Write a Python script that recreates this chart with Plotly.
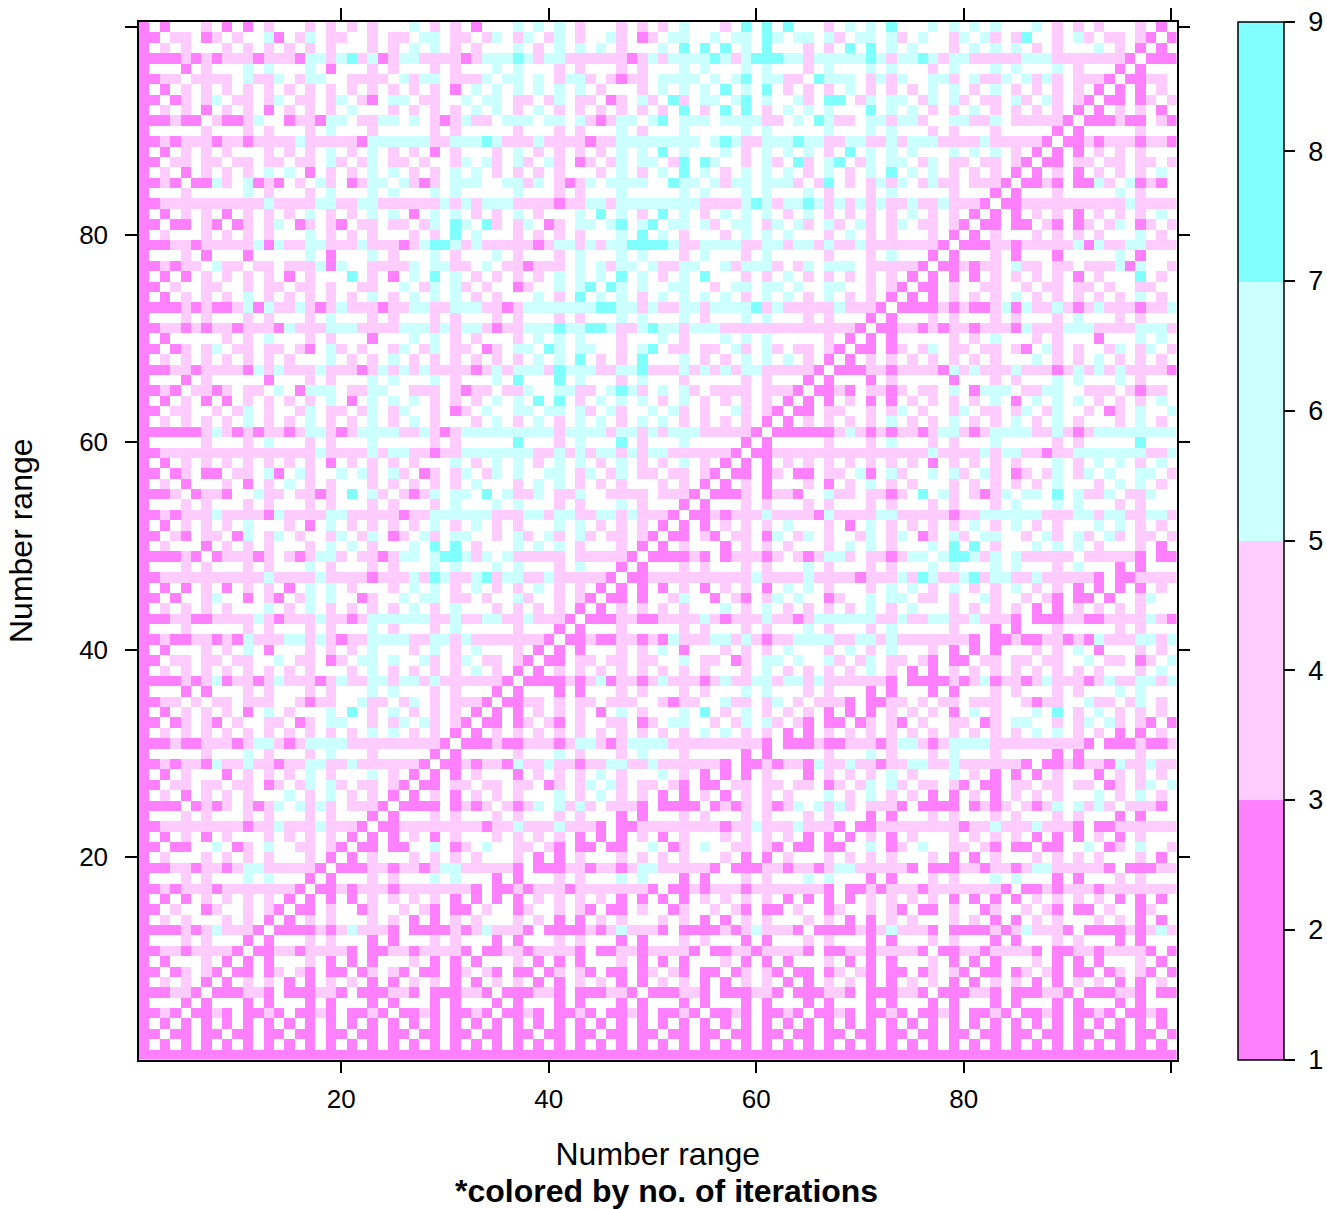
import plotly.graph_objects as go

# Iteration counts read cell by cell, bottom row (y=1) first; "." marks an uncoloured (white) cell.
iterations_by_row = [
"1111111111111111111111111111111111111111111111111111111111111111111111111111111111111111111111111111",
"2.2.2.2.2.2.2.2.2.2.2.2.2.2.2.2.2.2.2.2.2.2.2.2.2.2.2.2.2.2.2.2.2.2.2.2.2.2.2.2.2.2.2.2.2.2.2.2.2.2.",
"23.23.23.23.23.23.23.23.23.23.23.23.23.23.23.23.23.23.23.23.23.23.23.23.23.23.23.23.23.23.23.23.23.2",
"2.3.2.3.2.3.2.3.2.3.2.3.2.3.2.3.2.3.2.3.2.3.2.3.2.3.2.3.2.3.2.3.2.3.2.3.2.3.2.3.2.3.2.3.2.3.2.3.2.3.",
"2343.2343.2343.2343.2343.2343.2343.2343.2343.2343.2343.2343.2343.2343.2343.2343.2343.2343.2343.2343.",
"2...3.2...3.2...3.2...3.2...3.2...3.2...3.2...3.2...3.2...3.2...3.2...3.2...3.2...3.2...3.2...3.2...",
"233443.233443.233443.233443.233443.233443.233443.233443.233443.233443.233443.233443.233443.233443.23",
"2.4.5.3.2.4.5.3.2.4.5.3.2.4.5.3.2.4.5.3.2.4.5.3.2.4.5.3.2.4.5.3.2.4.5.3.2.4.5.3.2.4.5.3.2.4.5.3.2.4.",
"23.34.43.23.34.43.23.34.43.23.34.43.23.34.43.23.34.43.23.34.43.23.34.43.23.34.43.23.34.43.23.34.43.2",
"2.3...4.3.2.3...4.3.2.3...4.3.2.3...4.3.2.3...4.3.2.3...4.3.2.3...4.3.2.3...4.3.2.3...4.3.2.3...4.3.",
"2344345543.2344345543.2344345543.2344345543.2344345543.2344345543.2344345543.2344345543.2344345543.2",
"2...4.5...3.2...4.5...3.2...4.5...3.2...4.5...3.2...4.5...3.2...4.5...3.2...4.5...3.2...4.5...3.2...",
"233353464443.233353464443.233353464443.233353464443.233353464443.233353464443.233353464443.233353464",
"2.4.4...5.5.3.2.4.4...5.5.3.2.4.4...5.5.3.2.4.4...5.5.3.2.4.4...5.5.3.2.4.4...5.5.3.2.4.4...5.5.3.2.",
"23.4..34..5.43.23.4..34..5.43.23.4..34..5.43.23.4..34..5.43.23.4..34..5.43.23.4..34..5.43.23.4..34..",
"2.3.3.4.5.4.4.3.2.3.3.4.5.4.4.3.2.3.3.4.5.4.4.3.2.3.3.4.5.4.4.3.2.3.3.4.5.4.4.3.2.3.3.4.5.4.4.3.2.3.",
"2343444345554543.2343444345554543.2343444345554543.2343444345554543.2343444345554543.234344434555454",
"2...5.5...6.6...3.2...5.5...6.6...3.2...5.5...6.6...3.2...5.5...6.6...3.2...5.5...6.6...3.2...5.5...",
"233443553466455443.233443553466455443.233443553466455443.233443553466455443.233443553466455443.23344",
"2.4...4.4.5.5...5.3.2.4...4.4.5.5...5.3.2.4...4.4.5.5...5.3.2.4...4.4.5.5...5.3.2.4...4.4.5.5...5.3.",
"23.33..6.34.7..44.43.23.33..6.34.7..44.43.23.33..6.34.7..44.43.23.33..6.34.7..44.43.23.33..6.34.7..4",
"2.3.4.3.4...5.4.5.4.3.2.3.4.3.4...5.4.5.4.3.2.3.4.3.4...5.4.5.4.3.2.3.4.3.4...5.4.5.4.3.2.3.4.3.4...",
"2344544454345655565543.2344544454345655565543.2344544454345655565543.2344544454345655565543.23445444",
"2...4.4...4.5...5.5...3.2...4.4...4.5...5.5...3.2...4.4...4.5...5.5...3.2...4.4...4.5...5.5...3.2...",
"2333.3535.5346.6464.4443.2333.3535.5346.6464.4443.2333.3535.5346.6464.4443.2333.3535.5346.6464.4443.",
"2.4.3.5.4.5...6.5.6.4.5.3.2.4.3.5.4.5...6.5.6.4.5.3.2.4.3.5.4.5...6.5.6.4.5.3.2.4.3.5.4.5...6.5.6.4.",
"23.44.45.54.34.56.65.55.43.23.44.45.54.34.56.65.55.43.23.44.45.54.34.56.65.55.43.23.44.45.54.34.56.6",
"2.3.5...3.5.4.5.6.4...6.4.3.2.3.5...3.5.4.5.6.4...6.4.3.2.3.5...3.5.4.5.6.4...6.4.3.2.3.5...3.5.4.5.",
"2343443644654345675574554543.2343443644654345675574554543.2343443644654345675574554543.2343443644654",
"2.....4...6.4...5.7...5.....3.2.....4...6.4...5.7...5.....3.2.....4...6.4...5.7...5.....3.2.....4...",
"233433444356653467764555445443.233433444356653467764555445443.233433444356653467764555445443.2334334",
"2.4.4.5.5.4.4.4.5.5.5.6.6.5.5.3.2.4.4.5.5.4.4.4.5.5.5.6.6.5.5.3.2.4.4.5.5.4.4.4.5.5.5.6.6.5.5.3.2.4.",
"23.35.53.4..55.34.66..5.46.64.43.23.35.53.4..55.34.66..5.46.64.43.23.35.53.4..55.34.66..5.46.64.43.2",
"2.3.4.4.5.3.7.5...6.8.4.6.5.5.4.3.2.3.4.4.5.3.7.5...6.8.4.6.5.5.4.3.2.3.4.4.5.3.7.5...6.8.4.6.5.5.4.",
"2344.4.54.445..4345..655.56.5.5543.2344.4.54.445..4345..655.56.5.5543.2344.4.54.445..4345..655.56.5.",
"2...3.3...5.5...4.5...6.6...4.4...3.2...3.3...5.5...4.5...6.6...4.4...3.2...3.3...5.5...4.5...6.6...",
"233343463553564453465576466475454443.233343463553564453465576466475454443.23334346355356445346557646",
"2.4.5.4.4.4.4.5.4...5.6.5.5.5.5.6.5.3.2.4.5.4.4.4.4.5.4...5.6.5.5.5.5.6.5.3.2.4.5.4.4.4.4.5.4...5.6.",
"23.44.54.45..6.55.34.66.7..65.56.55.43.23.44.54.45..6.55.34.66.7..65.56.55.43.23.44.54.45..6.55.34.6",
"2.3...5.4.6.3...5.4.5.6...4.7.5.6...4.3.2.3...5.4.6.3...5.4.5.6...4.7.5.6...4.3.2.3...5.4.6.3...5.4.",
"2343344353654466564345767755674645544543.2343344353654466564345767755674645544543.234334435365446656",
"2...4.....5.4...4.5...6.5...5.6.....5...3.2...4.....5.4...4.5...6.5...5.6.....5...3.2...4.....5.4...",
"233453355446435556553466766645755664465443.233453355446435556553466766645755664465443.23345335544643",
"2.4.4.4.4...6.4.6.4.4.5.5.7.5.7...5.5.5.5.3.2.4.4.4.4...6.4.6.4.4.5.5.7.5.7...5.5.5.5.3.2.4.4.4.4...",
"23.3..46..3.43.56.6..34..7.76.45.4..75..4.43.23.3..46..3.43.56.6..34..7.76.45.4..75..4.43.23.3..46..",
"2.3.3.5.3.4.5.3.6.6.4...5.7.7.4.6.5.4.6.4.4.3.2.3.3.5.3.4.5.3.6.6.4...5.7.7.4.6.5.4.6.4.4.3.2.3.3.5.",
"2344445445547544574544345565865568566556555543.2344445445547544574544345565865568566556555543.234444",
"2...5.4...5.5...6.5...4.5...6.7...6.6...5.6...3.2...5.4...5.5...6.5...4.5...6.7...6.6...5.6...3.2...",
"233343.344435.535775.553466.688646.645554.454443.233343.344435.535775.553466.688646.645554.454443.23",
"2.4...3.5.5.5...4.7.7.5...6.8.8.5...6.6.6.4...5.3.2.4...3.5.5.5...4.7.7.5...6.8.8.5...6.6.6.4...5.3.",
"23.43.45.36.46.4..56.46.34.75.76..5.75.74.65.45.43.23.43.45.36.46.4..56.46.34.75.76..5.75.74.65.45.4",
"2.3.4.4.5.6...4.3.6.4.5.4.5.6.5.7.4.5...7.6.5.5.4.3.2.3.4.4.5.6...4.3.6.4.5.4.5.6.5.7.4.5...7.6.5.5.",
"23435456445536544466555543" "45666677555674665576564543" "." "23435456445536544466555543" "456666775556746655765",
"2...4.5...4.4...5.5...5.4...5.6...6.6...5.5...6.5...3.2...4.5...4.4...5.5...5.4...5.6...6.6...5.5...",
"2334.3443..644.5435.8.65.5346.67.9.6456.557..4554.5443.2334.3443..644.5435.8.65.5346.67.9.6456.557..",
"2.4.3...4.3.4.6.5.4...5.4.4.5.5.6...5.6.7.5.4.5...4.5.3.2.4.3...4.3.4.6.5.4...5.4.4.5.5.6...5.6.7.5.",
"23.34.33.54.63.65..6.64.64.34.57.57.7..67.47.56.44.54.43.23.34.33.54.63.65..6.64.64.34.57.57.7..67.4",
"2.3.5.4.4.5.4.5.5.3.5.5.4.5...6.5.6.6.4.6.6.5.6.5.5.6.4.3.2.3.5.4.4.5.4.5.5.3.5.5.4.5...6.5.6.6.4.6.",
"23444445545455454644556566543" "45677676655756566565665555543" "." "23444445545455454644556566543" "456776766557",
"2.....5...4.7...5.4...7.....4.5.....8...5.6...8.5...6.....3.2.....5...4.7...5.4...7.....4.5.....8...",
"233333565353553566535666655653467667777646776466464676444443.233333565353553566535666655653467667777",
"2.4.4.4.4.6.5.4.6.5.4.6.4.6.4...5.7.5.7.5.6.7.5.6.7.5.5.5.5.3.2.4.4.4.4.6.5.4.6.5.4.6.4.6.4...5.7.5.",
"23.45..4.46.5..46.45.56.56..5.34.6..76.76.65.75..6.75.5..65.43.23.45..4.46.5..46.45.56.56..5.34.6..7",
"2.3.4.3.3.5.4.5.5.6.3.7.7.6.5.4.5.6.7.8.8.4.7.6.6.5.6.4.4.5.4.3.2.3.4.3.3.5.4.5.5.6.3.7.7.6.5.4.5.6.",
"2343.4434.45.6.3676.4466..544.4345.556..7755.7874.7.65.5455.4543.2343.4434.45.6.3676.4466..544.4345.",
"2...3.4.....3...5.4...6.7...7.5...6.8...8.7...5.6...4.....5.4...3.2...3.4.....3...5.4...6.7...7.5...",
"233443554536464447554356574655453465667586764566855575746566455443.233443554536464447554356574655453",
"2.4.5.5.5.4.4.5...7.4.4.7.5.5.4.4.5.5.6.6.8.5.5.8...6.5.5.6.6.6.5.3.2.4.5.5.5.4.4.5...7.4.4.7.5.5.4.",
"23.34.46.45.44.43.75.4..56.57.55.34.66.86.76..5.68.45.55.65.75.54.43.23.34.46.45.44.43.75.4..56.57.5",
"2.3.....5.5.6...4.5...3...6.6.5.4...5.6.7.7...4...6.5...7.6.6.....4.3.2.3.....5.5.6...4.5...3...6.6.",
"23443434434443655466754457765756643" "45776867886556877566745554554545543" "." "23443434434443655466754457765",
"2...4.4...5.5...4.6...5.5...4.4...4.5...5.5...6.6...7.5...6.6...5.5...3.2...4.4...5.5...4.6...5.5...",
"233353433463755653564453557755666553466777668866465576467668475445464443.233353433463755653564453557",
"2.3.4.5.4.6.5.4.5.5.5.6.4.6.6.7.4.5...6.5.8.7.7.5.7.6.6.6.5.6.7.5.6.5.4.3.2.3.4.5.4.6.5.4.5.5.5.6.4.",
"23.4..55..5.55.55.4..55..6.57.75.5..34..6.68.86.7..66..5.66.66.6..66..5.43.23.4..55..5.55.55.4..55..",
"2.3.3.4.4.4.5.3.4...8.5.3.6.8.6.5.5.4.5.6.6.7.9.7.4.6.9...5.4.6.5.5.5.4.4.3.2.3.3.4.4.4.5.3.4...8.5.",
"234344.655.54.455636..55446.6645.6.443455.7.6577.75566..747665.56.667.554543.234344.655.54.455636..5",
"2...5.3...3.....6.3...6.4...6.5...6.4...5.7...6.7...5.7...4.7.....4...4.6...3.2...5.3...3.....6.3...",
"233443445446365466445655435788756454553466565768998645667655775674755655455443.233443445446365466445",
"2.4...4.4.5.4...6.5.5.4...4.5.8.6...4.4.5.5...7.9.6.5...5.6.6.7...5.6.5.5...5.3.2.4...4.4.5.4...6.5.",
"23.33.53.35.46.35.53.55.45.56.86.85.56.34.76.69.79.76.65.66.46.64.75.64.46.44.43.23.33.53.35.46.35.5",
"2.3.4.5.3.4.4.4.6.4.5.6.6.3.6.7.4.5.7.5...6.8.6.5.8.7.4.7.7.6.5.7.5.5.5.4.6.5.4.3.2.3.4.5.3.4.4.4.6.",
"23445445445464545765467544445656566645543" "45665777676765555687567865657565565565543" "." "23445445445464545",
"2...4.....6.4...4.6...6.6...6.6.....6...4.5...7.....7.7...7.7...7.5...5.7.....5...3.2...4.....6.4...",
"2343.3364.6353.4.74.3566.6535.667..6656.5346.7677..877.6467.7764.58.5.4647.5744.4543.2343.3364.6353.",
"2.4.3.4.5.5.7.6.3.5.4.6.6.5.4.6.7.5.4.5.4...5.6.5.6.8.7.5.6.7.7.5.6.4.7.8.6.6.5.4.5.3.2.4.3.4.5.5.7.",
"23.44.44.54.55.54.75.47.45.4..57.74.65.64.34.57.67.58.86..5.65.85.68.56.66.56.55.55.43.23.44.44.54.5",
"2.3.5.5.5...5.5.5.7.4.6.5.5.3.5...5.7.5.5.4.5.6.6.8.6...6.4.6.6.7.5.8.6.6.6...6.6.6.4.3.2.3.5.5.5...",
"23434453443555464455436676664467696555655543" "4566676667.787557778774566557566645546554543" "." "23434453443",
"2.....4...4.4...5.6...5.....5.5.....5...4.5...6.5...6.....6.6.....6...7.6...5.5...5.....3.2.....4...",
"233433.53356..355366.4467.6.435655.666.76.653467.78.777.667645.7.8755.774664..76446.445443.233433.53",
"2.4.4.3.4.5.3.4.5.5.7...5.5.5.4.7.7.4.7.4.4.4.5.5.5.8.5.8.8.5.6.6.6...8.6.6.5.4.6.5.4.5.5.3.2.4.4.3.",
"23.35.46.44.46.54.56.53.77.45..6.76.55.47.45.34.65.85.66.78.7..65.88.46.76.56.75.55.75.64.43.23.35.4",
"2.3.4.4.4.5.4.5.5.4.4.4.5.4.4.3.7.6.7.6.6.6.4...5.7.7.7.8.7.8.4.5.5.6.5.5.5.6.6.5.6.5.5.5.4.3.2.3.4.",
"2344.4545.6446.466..5454.6567.4456.76.6.5665.4345.6776.7.78.7655.8767.5656..775.7557.6565.5543.2344.",
"2...3.5...6.6...6.3...5.5...5.4...6.6...5.5...4.5...6.6...7.7...5.6...6.6...4.7...7.7...6.4...3.2...",
"233343435553444366468563576555535677864675555453465666687579887646666786476975774555466645454443.233",
"2.4.5...4.4.5.5.5.4...5.5.7.7.4.4...7.5.7.7.7.5...6.8.8.8.6.8...5.5.8.8.6.6...5.6.6.6.5.5...6.5.3.2.",
"23.44.35.4..73.46.54..5.45.66.45.56.57.56.5..65.34.67..6.76.86.76.65.77.65.6..56.75.48..5.64.55.43.2",
"2.3...4.3.3.5...5.5.5.5...7.5.5.3...7.7.7.4...5.4.5.6...5.8.8.8...4.6.6.8...6.6.6.6...6.4.4.5...4.3.",
]

x_numbers = list(range(1, 101))
y_numbers = list(range(1, 101))
axis_ticks = [20, 40, 60, 80, 100]
axis_tick_labels = ["20", "40", "60", "80", ""]
key_ticks = [1, 2, 3, 4, 5, 6, 7, 8, 9]
key_colors = ["#FF80FF", "#FFCCFF", "#CCFFFF", "#80FFFF"]
band_of_count = {"1": 2, "2": 2, "3": 2, "4": 4, "5": 4, "6": 6, "7": 6, "8": 8, "9": 8, ".": None}

bad = [(i + 1, len(r)) for i, r in enumerate(iterations_by_row) if len(r) != 100]
if bad or len(iterations_by_row) != 100:
    raise SystemExit("bad rows: " + str(bad) + " n=" + str(len(iterations_by_row)))

z = [[band_of_count[c] for c in row] for row in iterations_by_row]

W, H = 1327, 1209
L, R, T, B = 139, 1176.5, 22, 1059.5
FONT = "Liberation Sans"

scale = []
for i, c in enumerate(key_colors):
    scale += [[i / 4, c], [(i + 1) / 4, c]]

fig = go.Figure(go.Heatmap(
    x=x_numbers, y=y_numbers, z=z, zmin=1, zmax=9, colorscale=scale,
    hoverongaps=False,
    colorbar=dict(
        thickness=46, thicknessmode="pixels", len=(B - T) / H, lenmode="fraction",
        x=1238 / W, xref="paper", xanchor="left", xpad=0,
        y=1 - B / H, yref="paper", yanchor="bottom", ypad=0,
        tickmode="array", tickvals=key_ticks, ticktext=["\u00a0" + str(v) for v in key_ticks],
        ticks="outside", ticklen=11, tickwidth=1.5, tickcolor="black",
        outlinecolor="black", outlinewidth=1.5, tickfont=dict(family=FONT, size=27, color="black"),
    ),
))

axis_common = dict(
    tickmode="array", tickvals=axis_ticks, ticktext=axis_tick_labels,
    ticks="outside", ticklen=12, tickwidth=1.5, tickcolor="black",
    showline=True, linecolor="black", linewidth=1.5, mirror="allticks",
    showgrid=False, zeroline=False, range=[0.5, 100.5],
    tickfont=dict(family=FONT, size=26, color="black"),
)
fig.update_xaxes(domain=[L / W, R / W], ticklabelstandoff=4,
                 title=dict(text="Number range", standoff=29, font=dict(family=FONT, size=32, color="black")),
                 **axis_common)
fig.update_yaxes(domain=[1 - B / H, 1 - T / H], ticklabelstandoff=12,
                 title=dict(text="Number range", standoff=37, font=dict(family=FONT, size=32, color="black")),
                 **axis_common)
fig.update_layout(
    width=W, height=H, autosize=False, margin=dict(l=0, r=0, t=0, b=0),
    paper_bgcolor="white", plot_bgcolor="white",
    annotations=[dict(
        text="<b>*colored by no. of iterations</b>", xref="paper", yref="paper",
        x=666 / W, y=1 - 1191 / H, xanchor="center", yanchor="middle", showarrow=False,
        font=dict(family=FONT, size=32, color="black"),
    )],
)
fig.write_html("out.html", config={"displayModeBar": False},
               post_script="document.body.style.margin='0';window.dispatchEvent(new Event('resize'));")
